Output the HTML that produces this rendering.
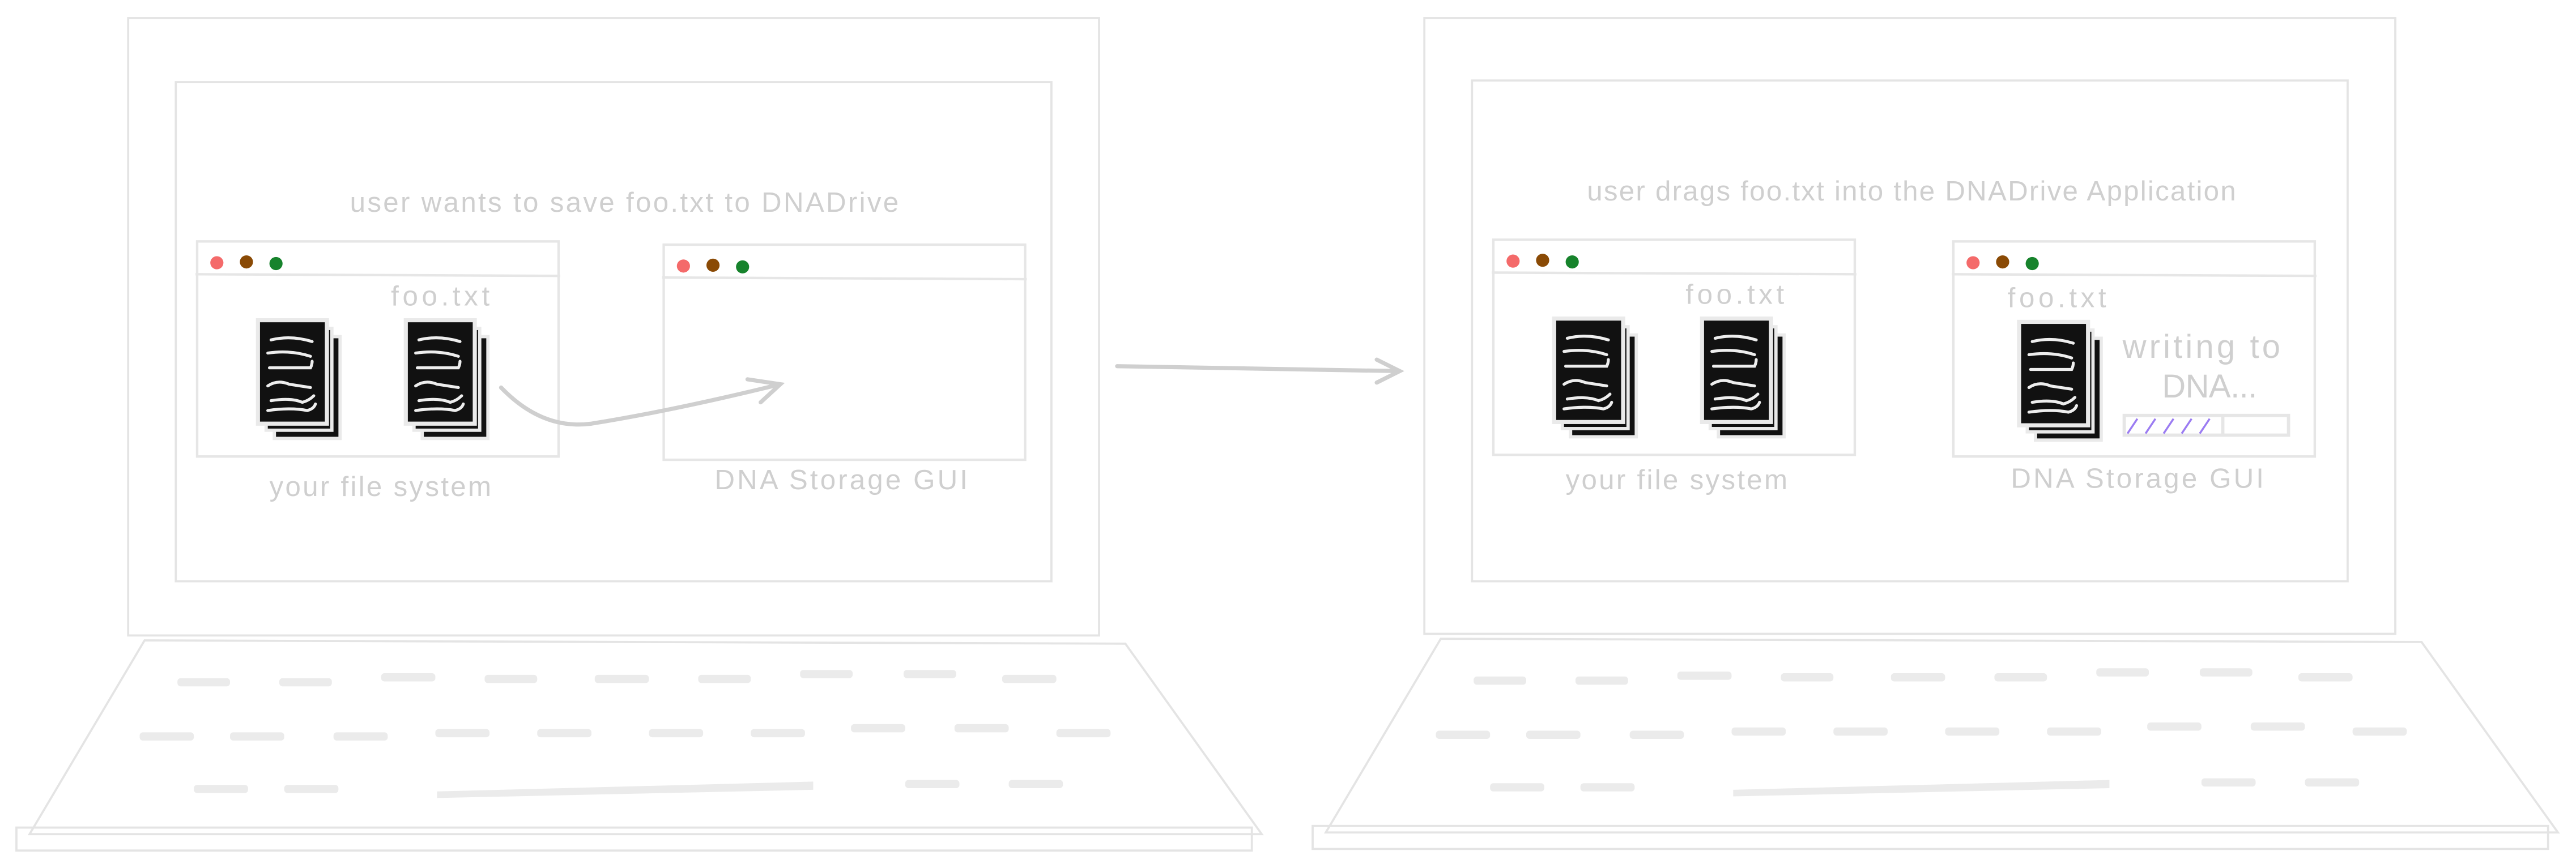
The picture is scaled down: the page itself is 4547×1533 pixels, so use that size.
<!DOCTYPE html>
<html><head><meta charset="utf-8"><style>
html,body{margin:0;padding:0;background:#fff;}
svg{display:block;}
text{font-family:"Liberation Sans",sans-serif;fill:#cfcfcf;}
</style></head><body>
<svg width="4547" height="1533" viewBox="0 0 1568 528.6" xmlns="http://www.w3.org/2000/svg">
<defs>
<g id="doc">
  <rect x="10" y="10" width="40" height="62" fill="#111" stroke="#eaeaea" stroke-width="2"/>
  <rect x="5" y="5" width="40" height="62" fill="#111" stroke="#eaeaea" stroke-width="2"/>
  <rect x="0" y="0" width="42" height="63" fill="#111" stroke="#eaeaea" stroke-width="2.5"/>
  <g stroke="#eee" stroke-width="1.8" fill="none" stroke-linecap="round">
    <path d="M8 12 Q20 9 33 13"/>
    <path d="M6 20 Q20 18 32 22"/>
    <path d="M7 29 L32 29 Q33 27 33 25"/>
    <path d="M6 40 Q12 36 19 39 L32 41"/>
    <path d="M8 49 Q20 47 27 50 Q31 49 34 46"/>
    <path d="M6 55 Q20 53 30 55 Q34 54 35 51"/>
  </g>
</g>
<g id="win">
  <rect x="0" y="0" width="220" height="131" fill="none" stroke="#e6e6e6" stroke-width="1.5"/>
  <line x1="-1" y1="20" x2="221" y2="21" stroke="#e6e6e6" stroke-width="1.5"/>
  <circle cx="12" cy="13" r="4" fill="#f46a6a"/>
  <circle cx="30" cy="12.5" r="4" fill="#8a4a05"/>
  <circle cx="48" cy="13.5" r="4" fill="#17832c"/>
</g>
<g id="kb">
  <polygon points="88,390 685,392 768,508 18,508" fill="none" stroke="#e4e4e4" stroke-width="1.3"/>
  <rect x="10" y="504" width="752" height="14" fill="none" stroke="#e4e4e4" stroke-width="1.3"/>
  <g fill="#ebebeb">
    <rect x="108" y="413" width="32" height="5" rx="2"/><rect x="170" y="413" width="32" height="5" rx="2"/>
    <rect x="232" y="410" width="33" height="5" rx="2"/><rect x="295" y="411" width="32" height="5" rx="2"/>
    <rect x="362" y="411" width="33" height="5" rx="2"/><rect x="425" y="411" width="32" height="5" rx="2"/>
    <rect x="487" y="408" width="32" height="5" rx="2"/><rect x="550" y="408" width="32" height="5" rx="2"/>
    <rect x="610" y="411" width="33" height="5" rx="2"/>
    <rect x="85" y="446" width="33" height="5" rx="2"/><rect x="140" y="446" width="33" height="5" rx="2"/>
    <rect x="203" y="446" width="33" height="5" rx="2"/><rect x="265" y="444" width="33" height="5" rx="2"/>
    <rect x="327" y="444" width="33" height="5" rx="2"/><rect x="395" y="444" width="33" height="5" rx="2"/>
    <rect x="457" y="444" width="33" height="5" rx="2"/><rect x="518" y="441" width="33" height="5" rx="2"/>
    <rect x="581" y="441" width="33" height="5" rx="2"/><rect x="643" y="444" width="33" height="5" rx="2"/>
    <rect x="118" y="478" width="33" height="5" rx="2"/><rect x="173" y="478" width="33" height="5" rx="2"/>
    <rect x="551" y="475" width="33" height="5" rx="2"/><rect x="614" y="475" width="33" height="5" rx="2"/>
    <polygon points="266,482 495,476 495,481 266,486"/>
  </g>
</g>
</defs>

<!-- Left laptop -->
<rect x="78" y="11" width="591" height="376" fill="none" stroke="#e4e4e4" stroke-width="1.3"/>
<rect x="107" y="50" width="533" height="304" fill="none" stroke="#e4e4e4" stroke-width="1.3"/>
<text x="213" y="129" font-size="17" textLength="334" lengthAdjust="spacing">user wants to save foo.txt to DNADrive</text>
<use href="#win" x="120" y="147"/>
<use href="#win" x="404" y="149"/>
<text x="238" y="186" font-size="17" textLength="60" lengthAdjust="spacing">foo.txt</text>
<use href="#doc" x="157" y="195"/>
<use href="#doc" x="247" y="195"/>
<path d="M305 236 Q330 262 360 258 Q410 250 475 234 M455 231 L475 234 L463 245" fill="none" stroke="#cfcfcf" stroke-width="2.5" stroke-linecap="round"/>
<text x="164" y="302" font-size="17" textLength="135" lengthAdjust="spacing">your file system</text>
<text x="435" y="298" font-size="17" textLength="154" lengthAdjust="spacing">DNA Storage GUI</text>
<use href="#kb"/>

<!-- Middle arrow -->
<path d="M680 223 L852 226 M838 219 L852 226 L838 233" fill="none" stroke="#cfcfcf" stroke-width="2.5" stroke-linecap="round"/>

<!-- Right laptop -->
<rect x="867" y="11" width="591" height="375" fill="none" stroke="#e4e4e4" stroke-width="1.3"/>
<rect x="896" y="49" width="533" height="305" fill="none" stroke="#e4e4e4" stroke-width="1.3"/>
<text x="966" y="122" font-size="17" textLength="395" lengthAdjust="spacing">user drags foo.txt into the DNADrive Application</text>
<use href="#win" x="909" y="146"/>
<use href="#win" x="1189" y="147"/>
<text x="1026" y="185" font-size="17" textLength="60" lengthAdjust="spacing">foo.txt</text>
<text x="1222" y="187" font-size="17" textLength="60" lengthAdjust="spacing">foo.txt</text>
<use href="#doc" x="946" y="194"/>
<use href="#doc" x="1036" y="194"/>
<use href="#doc" x="1229" y="196"/>
<text x="1292" y="218" font-size="20" textLength="96" lengthAdjust="spacing">writing to</text>
<text x="1316" y="242" font-size="20" textLength="58" lengthAdjust="spacing">DNA...</text>
<rect x="1293" y="253" width="100" height="12" fill="none" stroke="#e6e6e6" stroke-width="2"/>
<g stroke="#9b7cf2" stroke-width="1.2">
  <line x1="1295" y1="264" x2="1301" y2="255"/><line x1="1306" y1="264" x2="1312" y2="255"/>
  <line x1="1317" y1="264" x2="1323" y2="255"/><line x1="1328" y1="264" x2="1334" y2="255"/>
  <line x1="1339" y1="264" x2="1345" y2="255"/>
</g>
<line x1="1353" y1="253" x2="1353" y2="265" stroke="#e6e6e6" stroke-width="2"/>
<text x="953" y="298" font-size="17" textLength="135" lengthAdjust="spacing">your file system</text>
<text x="1224" y="297" font-size="17" textLength="154" lengthAdjust="spacing">DNA Storage GUI</text>
<use href="#kb" x="789" y="-1"/>
</svg>
</body></html>
